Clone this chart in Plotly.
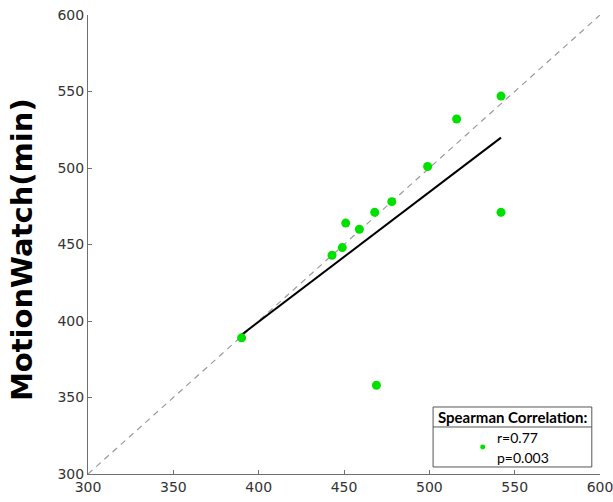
import numpy as np
import plotly.graph_objects as go

# Data
actigraph_min = [390, 443, 449, 451, 459, 468, 478, 499, 516, 542, 542, 469]
motionwatch_min = [389, 443, 448, 464, 460, 471, 478, 501, 532, 547, 471, 358]
identity = [300, 600]
tick_vals = [300, 350, 400, 450, 500, 550, 600]
legend_title = "Spearman Correlation:"
legend_lines = ["r=0.77", "p=0.003"]
y_title = "MotionWatch(min)"

GREEN = "rgb(0,225,0)"
AXIS = "#707070"

slope, intercept = np.polyfit(actigraph_min, motionwatch_min, 1)
fit_x = [min(actigraph_min), max(actigraph_min)]
fit_y = [slope * v + intercept for v in fit_x]

fig = go.Figure()
fig.add_trace(go.Scatter(x=identity, y=identity, mode="lines",
                         line=dict(color="#9a9a9a", width=1.2, dash="6px,5px"),
                         hoverinfo="skip", showlegend=False))
fig.add_trace(go.Scatter(x=fit_x, y=fit_y, mode="lines",
                         line=dict(color="black", width=2), showlegend=False))
fig.add_trace(go.Scatter(x=actigraph_min, y=motionwatch_min, mode="markers",
                         marker=dict(color=GREEN, size=9), showlegend=False))

axis_common = dict(range=[300, 600], tickvals=tick_vals, ticks="inside", ticklen=4,
                   tickcolor=AXIS, showline=True, linecolor=AXIS, linewidth=1,
                   showgrid=False, zeroline=False, automargin=False,
                   ticklabeloverflow="allow",
                   tickfont=dict(family="DejaVu Sans", size=14, color="#333333"))
fig.update_xaxes(**axis_common)
fig.update_yaxes(**axis_common)

# legend box
fig.add_shape(type="rect", xref="paper", yref="paper", x0=0.674, x1=0.984, y0=0.0153, y1=0.146,
              line=dict(color="#555555", width=1), fillcolor="white")
fig.add_shape(type="line", xref="paper", yref="paper", x0=0.674, x1=0.984, y0=0.1024, y1=0.1024,
              line=dict(color="#555555", width=1))
fig.add_shape(type="circle", xref="paper", yref="paper", x0=0.771 - 0.0049, x1=0.771 + 0.0049,
              y0=0.0588 - 0.0054, y1=0.0588 + 0.0054, line=dict(width=0), fillcolor=GREEN)
fig.add_annotation(text="<b>" + legend_title + "</b>", xref="paper", yref="paper", x=0.829, y=0.124,
                   showarrow=False, xanchor="center", yanchor="middle",
                   font=dict(family="Lato", size=15, color="black"))
for txt, yy in zip(legend_lines, [0.0806, 0.037]):
    fig.add_annotation(text=txt, xref="paper", yref="paper", x=0.795, y=yy, showarrow=False,
                       xanchor="left", yanchor="middle",
                       font=dict(family="Lato", size=14, color="black"))

# y-axis title
fig.add_annotation(text="<b>" + y_title + "</b>", xref="paper", yref="paper", x=-0.129, y=0.49,
                   showarrow=False, textangle=-90, xanchor="center", yanchor="middle",
                   font=dict(family="DejaVu Sans", size=29, color="black"))

fig.update_layout(width=613, height=502, margin=dict(l=88, r=13, t=15, b=28),
                  paper_bgcolor="white", plot_bgcolor="white")
fig.write_html("out.html")
